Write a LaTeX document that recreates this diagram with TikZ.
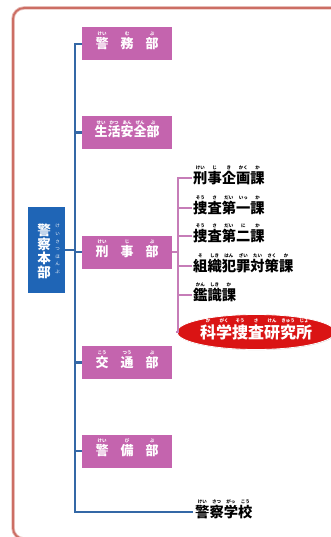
\documentclass[tikz,border=0pt]{standalone}
\usepackage{fontspec}
\newfontfamily\jp{Noto Sans CJK JP}
\usetikzlibrary{shapes.geometric,shadows}
\definecolor{pinkc}{HTML}{C464AE}
\definecolor{bluec}{HTML}{1F65B6}
\definecolor{trunkc}{HTML}{3468A6}
\definecolor{framec}{HTML}{CC6E64}
\definecolor{brackc}{HTML}{C67DB8}
\definecolor{kredc}{HTML}{DA1414}
\newcommand\rubyfont{\fontsize{4.5}{5}\selectfont}
\newcommand\rb[2]{\setbox0\hbox{#1}\leavevmode\rlap{\hbox to\wd0{\hss\raisebox{0.98em}{\rubyfont #2}\hss}}\box0}
\tikzset{
  pinkbox/.style={fill=pinkc, minimum width=90pt, minimum height=33pt, inner sep=0pt,
    text=white, font=\jp\bfseries\fontsize{13}{14}\selectfont, text height=10pt, text depth=1pt},
  bluebox/.style={fill=bluec, minimum width=37pt, minimum height=86pt, inner sep=0pt},
  itemtext/.style={anchor=west, inner sep=1pt, font=\jp\bfseries\fontsize{14.3}{15}\selectfont,
    text height=12pt, text depth=1.5pt},
  trunk/.style={draw=trunkc, line width=2.4pt},
  brack/.style={draw=brackc, line width=1.2pt},
}
\begin{document}
\begin{tikzpicture}[x=1pt,y=-1pt]
\useasboundingbox (0,0) rectangle (331,537);
\begin{scope}
\clip (0,0) rectangle (331,537);
\draw[framec!45, line width=3.5pt, rounded corners=11pt] (13,8) rectangle (390,539);
\draw[framec, line width=1.8pt, rounded corners=11pt] (13,8) rectangle (390,539);
\end{scope}
% department boxes
\node[pinkbox] (keimu) at (127,44) {\rb{警}{けい}\hspace{12pt}\rb{務}{む}\hspace{12pt}\rb{部}{ぶ}};
\node[pinkbox] (seikatsu) at (127,132.5) {\rb{生}{せい}\rb{活}{かつ}\rb{安}{あん}\rb{全}{ぜん}\rb{部}{ぶ}};
\node[pinkbox] (keiji) at (127,252) {\rb{刑}{けい}\hspace{12pt}\rb{事}{じ}\hspace{12pt}\rb{部}{ぶ}};
\node[pinkbox] (koutsu) at (127,362.5) {\rb{交}{こう}\hspace{12pt}\rb{通}{つう}\hspace{12pt}\rb{部}{ぶ}};
\node[pinkbox] (keibi) at (127,451) {\rb{警}{けい}\hspace{12pt}\rb{備}{び}\hspace{12pt}\rb{部}{ぶ}};
% headquarters
\node[bluebox] (honbu) at (46.5,250) {};
\node[text=white, font=\jp\bfseries\fontsize{13.5}{14}\selectfont, align=center, inner sep=0pt] (honbutxt) at (44,251) {警\\察\\本\\部};
\node[text=white, font=\jp\fontsize{4.5}{7.6}\selectfont, align=center, inner sep=0pt] (honburuby) at (57.5,249) {け\\い\\さ\\つ\\ほ\\ん\\ぶ};
% police school
\node[itemtext, inner sep=2pt] (school) at (193,512) {\rb{警}{けい}\rb{察}{さつ}\rb{学}{がっ}\rb{校}{こう}};
% sections
\node[itemtext] (k1) at (192,178) {\rb{刑}{けい}\rb{事}{じ}\rb{企}{き}\rb{画}{かく}\rb{課}{か}};
\node[itemtext] (k2) at (192,208) {\rb{捜}{そう}\rb{査}{さ}\rb{第}{だい}\rb{一}{いっ}\rb{課}{か}};
\node[itemtext] (k3) at (192,236) {\rb{捜}{そう}\rb{査}{さ}\rb{第}{だい}\rb{二}{に}\rb{課}{か}};
\node[itemtext] (k4) at (192,266) {\rb{組}{そ}\rb{織}{しき}\rb{犯}{はん}\rb{罪}{ざい}\rb{対}{たい}\rb{策}{さく}\rb{課}{か}};
\node[itemtext] (k5) at (192,295) {\rb{鑑}{かん}\rb{識}{しき}\rb{課}{か}};
\node[ellipse, fill=kredc, draw=white, line width=0.8pt, minimum width=142pt, minimum height=35pt, inner sep=0pt,
  drop shadow={shadow xshift=0.6pt, shadow yshift=-0.6pt, opacity=0.35},
  text=white, font=\jp\bfseries\fontsize{16}{17}\selectfont, text height=13pt, text depth=1pt] (kaken) at (256,332)
  {\rb{科}{か}\rb{学}{がく}\rb{捜}{そう}\rb{査}{さ}\rb{研}{けん}\rb{究}{きゅう}\rb{所}{じょ}};
% trunk
\coordinate (tx) at (75,0);
\draw[trunk] (keimu.west) -- (keimu.west -| tx) -- (school.west -| tx) -- (school.west);
\foreach \d in {seikatsu,keiji,koutsu,keibi} \draw[trunk] (\d.west) -- (\d.west -| tx);
\draw[trunk] (honbu.east) -- (honbu.east -| tx);
% bracket
\coordinate (bx) at (178,0);
\draw[brack] (keiji.east) -- (keiji.east -| bx);
\draw[brack] (k1.west) -- (k1.west -| bx) -- (kaken.west -| bx) -- (kaken.west);
\foreach \k in {k2,k3,k4,k5} \draw[brack] (\k.west) -- (\k.west -| bx);
\end{tikzpicture}
\end{document}
